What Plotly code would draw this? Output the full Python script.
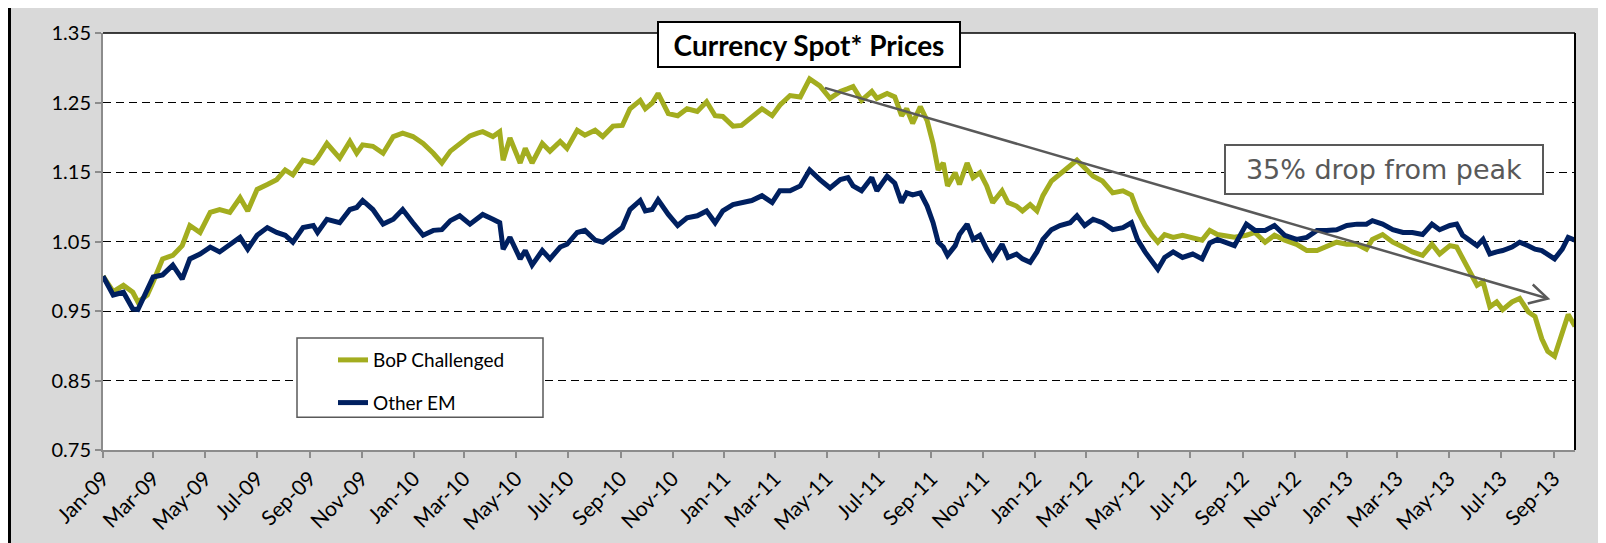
import plotly.graph_objects as go

# ---------------- data ----------------
dates = [
    "2009-01-01", "2009-01-13", "2009-01-25", "2009-02-05", "2009-02-11", "2009-02-22",
    "2009-03-01", "2009-03-12", "2009-03-24", "2009-04-04", "2009-04-13", "2009-04-25",
    "2009-05-07", "2009-05-18", "2009-05-30", "2009-06-11", "2009-06-20", "2009-07-01",
    "2009-07-13", "2009-07-24", "2009-08-03", "2009-08-12", "2009-08-24", "2009-09-05",
    "2009-09-10", "2009-09-21", "2009-10-06", "2009-10-18", "2009-10-26", "2009-11-02",
    "2009-11-14", "2009-11-26", "2009-12-08", "2009-12-19", "2009-12-31", "2010-01-12",
    "2010-01-24", "2010-02-03", "2010-02-13", "2010-02-24", "2010-03-08", "2010-03-17",
    "2010-03-23", "2010-04-04", "2010-04-12", "2010-04-16", "2010-04-24", "2010-05-06",
    "2010-05-12", "2010-05-20", "2010-06-01", "2010-06-10", "2010-06-22", "2010-06-30",
    "2010-07-12", "2010-07-21", "2010-08-02", "2010-08-11", "2010-08-23", "2010-09-03",
    "2010-09-12", "2010-09-24", "2010-09-30", "2010-10-08", "2010-10-15", "2010-10-27",
    "2010-11-07", "2010-11-18", "2010-11-30", "2010-12-11", "2010-12-21", "2010-12-30",
    "2011-01-11", "2011-01-21", "2011-02-02", "2011-02-14", "2011-02-26", "2011-03-07",
    "2011-03-19", "2011-03-31", "2011-04-11", "2011-04-23", "2011-05-05", "2011-05-17",
    "2011-05-26", "2011-06-01", "2011-06-11", "2011-06-23", "2011-06-29", "2011-07-11",
    "2011-07-20", "2011-07-28", "2011-08-03", "2011-08-10", "2011-08-19", "2011-08-27",
    "2011-09-03", "2011-09-09", "2011-09-15", "2011-09-20", "2011-09-29", "2011-10-04",
    "2011-10-13", "2011-10-20", "2011-10-28", "2011-11-05", "2011-11-12", "2011-11-23",
    "2011-11-30", "2011-12-10", "2011-12-17", "2011-12-26", "2012-01-03", "2012-01-10",
    "2012-01-20", "2012-01-30", "2012-02-11", "2012-02-19", "2012-02-28", "2012-03-09",
    "2012-03-20", "2012-04-01", "2012-04-13", "2012-04-23", "2012-04-30", "2012-05-09",
    "2012-05-17", "2012-05-24", "2012-06-01", "2012-06-11", "2012-06-22", "2012-07-04",
    "2012-07-15", "2012-07-24", "2012-08-02", "2012-08-22", "2012-09-05", "2012-09-15",
    "2012-09-27", "2012-10-08", "2012-10-20", "2012-11-03", "2012-11-15", "2012-11-27",
    "2012-12-08", "2012-12-20", "2013-01-01", "2013-01-13", "2013-01-24", "2013-01-31",
    "2013-02-12", "2013-02-24", "2013-03-08", "2013-03-19", "2013-03-31", "2013-04-11",
    "2013-04-20", "2013-05-02", "2013-05-10", "2013-05-17", "2013-05-25", "2013-06-03",
    "2013-06-10", "2013-06-18", "2013-06-26", "2013-07-03", "2013-07-14", "2013-07-23",
    "2013-08-02", "2013-08-10", "2013-08-18", "2013-08-25", "2013-09-02", "2013-09-11",
    "2013-09-18", "2013-09-26",
]

bop_challenged = [
    1.000, 0.978, 0.987, 0.977, 0.963, 0.973,
    0.992, 1.025, 1.030, 1.044, 1.073, 1.063,
    1.092, 1.096, 1.092, 1.113, 1.094, 1.125,
    1.132, 1.139, 1.153, 1.146, 1.167, 1.163,
    1.170, 1.191, 1.170, 1.194, 1.177, 1.189,
    1.187, 1.177, 1.201, 1.206, 1.201, 1.191,
    1.177, 1.163, 1.180, 1.191, 1.202, 1.206,
    1.208, 1.201, 1.208, 1.167, 1.199, 1.163,
    1.184, 1.163, 1.191, 1.180, 1.194, 1.184,
    1.210, 1.203, 1.210, 1.201, 1.216, 1.217,
    1.241, 1.253, 1.241, 1.249, 1.263, 1.234,
    1.231, 1.241, 1.237, 1.251, 1.231, 1.230,
    1.216, 1.217, 1.230, 1.241, 1.231, 1.246,
    1.260, 1.258, 1.284, 1.274, 1.256, 1.266,
    1.270, 1.273, 1.253, 1.266, 1.256, 1.263,
    1.258, 1.231, 1.241, 1.220, 1.244, 1.224,
    1.191, 1.153, 1.163, 1.130, 1.149, 1.132,
    1.163, 1.142, 1.149, 1.130, 1.106, 1.123,
    1.106, 1.101, 1.094, 1.103, 1.094, 1.116,
    1.137, 1.146, 1.159, 1.167, 1.156, 1.144,
    1.137, 1.120, 1.123, 1.117, 1.094, 1.073,
    1.059, 1.049, 1.060, 1.056, 1.059, 1.056,
    1.052, 1.066, 1.060, 1.056, 1.059, 1.063,
    1.049, 1.059, 1.052, 1.046, 1.037, 1.037,
    1.042, 1.049, 1.046, 1.046, 1.039, 1.053,
    1.060, 1.049, 1.042, 1.035, 1.030, 1.046,
    1.032, 1.044, 1.042, 1.025, 1.006, 0.987,
    0.992, 0.956, 0.963, 0.952, 0.963, 0.968,
    0.949, 0.942, 0.910, 0.892, 0.885, 0.918,
    0.945, 0.928,
]

other_em = [
    1.000, 0.973, 0.977, 0.953, 0.952, 0.982,
    0.999, 1.002, 1.016, 0.996, 1.025, 1.032,
    1.042, 1.035, 1.046, 1.056, 1.039, 1.059,
    1.070, 1.063, 1.059, 1.049, 1.070, 1.073,
    1.063, 1.082, 1.077, 1.096, 1.099, 1.109,
    1.096, 1.075, 1.082, 1.096, 1.077, 1.059,
    1.066, 1.067, 1.080, 1.087, 1.075, 1.084,
    1.089, 1.082, 1.077, 1.039, 1.056, 1.025,
    1.037, 1.016, 1.037, 1.025, 1.042, 1.046,
    1.063, 1.066, 1.052, 1.049, 1.060, 1.070,
    1.096, 1.109, 1.094, 1.096, 1.110, 1.089,
    1.073, 1.084, 1.087, 1.094, 1.077, 1.094,
    1.103, 1.106, 1.109, 1.116, 1.106, 1.123,
    1.123, 1.130, 1.153, 1.139, 1.127, 1.139,
    1.142, 1.130, 1.123, 1.142, 1.123, 1.144,
    1.134, 1.106, 1.120, 1.117, 1.120, 1.101,
    1.077, 1.049, 1.042, 1.030, 1.044, 1.060,
    1.075, 1.053, 1.059, 1.039, 1.025, 1.046,
    1.027, 1.032, 1.025, 1.020, 1.035, 1.053,
    1.067, 1.073, 1.077, 1.087, 1.073, 1.082,
    1.077, 1.067, 1.070, 1.077, 1.053, 1.035,
    1.020, 1.010, 1.027, 1.035, 1.027, 1.032,
    1.025, 1.048, 1.053, 1.044, 1.075, 1.066,
    1.066, 1.073, 1.059, 1.053, 1.056, 1.066,
    1.066, 1.067, 1.073, 1.075, 1.075, 1.080,
    1.075, 1.067, 1.063, 1.063, 1.060, 1.075,
    1.067, 1.073, 1.075, 1.059, 1.052, 1.044,
    1.053, 1.032, 1.035, 1.037, 1.042, 1.049,
    1.044, 1.039, 1.037, 1.032, 1.025, 1.039,
    1.056, 1.052,
]

series_names = ["BoP Challenged", "Other EM"]
title_text = "Currency Spot* Prices"
drop_text = "35% drop from peak"
arrow_start = ("2011-04-29", 1.271)
arrow_end = ("2013-08-25", 0.968)
x_range = ["2009-01-01", "2013-09-26"]
y_range = [0.75, 1.35]

# ---------------- layout geometry (screen pixels) ----------------
W, H = 1606, 543
OFF = 8                      # page body margin offsets the figure on screen
PL, PR, PT, PB = 103, 1575, 29, 450   # plot area on screen
ML, MT = PL - OFF, PT - OFF
MR, MB = W - (PR - OFF), H - (PB - OFF)
PW, PH = PR - PL, PB - PT


def px(xs):
    return (xs - PL) / PW


def py(ys):
    return (PB - ys) / PH


GREEN = "#a3ad1f"
NAVY = "#002060"
GREY = "#595959"
AXIS_GREY = "#8c8c8c"

fig = go.Figure()
fig.add_trace(go.Scatter(x=dates, y=bop_challenged, mode="lines", name=series_names[0],
                         line=dict(color=GREEN, width=5), legendgroup="a"))
fig.add_trace(go.Scatter(x=dates, y=other_em, mode="lines", name=series_names[1],
                         line=dict(color=NAVY, width=5), legendgroup="b"))

shapes = [
    # outer frame, left edge
    dict(type="line", xref="paper", yref="paper", x0=px(9), x1=px(9), y0=py(H + 20), y1=py(-20),
         line=dict(color="black", width=4), layer="above"),
    # plot area top and right borders
    dict(type="line", xref="paper", yref="paper", x0=0, x1=1, y0=1, y1=1,
         line=dict(color="black", width=1.5), layer="above"),
    dict(type="line", xref="paper", yref="paper", x0=1, x1=1, y0=0, y1=1,
         line=dict(color="black", width=2), layer="above"),
    # legend box
    dict(type="rect", xref="paper", yref="paper", x0=px(297), x1=px(543), y0=py(417), y1=py(337),
         fillcolor="white", line=dict(color=GREY, width=1.5), layer="above"),
    # arrow line
    dict(type="line", xref="x", yref="y", x0=arrow_start[0], y0=arrow_start[1],
         x1=arrow_end[0], y1=arrow_end[1], line=dict(color=GREY, width=2.5), layer="above"),
    # arrow head (open chevron), pixel offsets around the arrow tip
    dict(type="path", xref="x", yref="y", xsizemode="pixel", ysizemode="pixel",
         xanchor=arrow_end[0], yanchor=arrow_end[1],
         path="M-15,14 L0,0 L-20,-5", line=dict(color=GREY, width=2.5), layer="above"),
]

annotations = [
    dict(text="<b>" + title_text + "</b>", xref="paper", yref="paper", x=px(809), y=py(40.5),
         xanchor="center", yanchor="middle", showarrow=False,
         font=dict(family="Lato", size=28, color="black"),
         bgcolor="white", bordercolor="black", borderwidth=2, borderpad=0,
         width=300, height=43),
    dict(text=drop_text, xref="paper", yref="paper", x=px(1384), y=py(166.5),
         xanchor="center", yanchor="middle", showarrow=False,
         font=dict(family="DejaVu Sans", size=27, color=GREY),
         bgcolor="white", bordercolor=GREY, borderwidth=2, borderpad=0,
         width=316, height=47),
]

fig.update_layout(
    width=W, height=H,
    margin=dict(l=ML, r=MR, t=MT, b=MB, pad=0),
    paper_bgcolor="#d9d9d9",
    plot_bgcolor="white",
    showlegend=True,
    legend=dict(x=px(333), y=py(340), xanchor="left", yanchor="top",
                bgcolor="rgba(0,0,0,0)", borderwidth=0,
                font=dict(family="Lato", size=19, color="black"),
                traceorder="grouped", tracegroupgap=15),
    shapes=shapes,
    annotations=annotations,
    xaxis=dict(type="date", range=x_range, tick0="2009-01-01", dtick="M2",
               tickformat="%b-%y", tickangle=-45, ticks="outside", ticklen=6,
               tickwidth=1.5, tickcolor=AXIS_GREY, showline=True, linecolor=AXIS_GREY,
               linewidth=2, showgrid=False, zeroline=False,
               tickfont=dict(family="Lato", size=21, color="black"),
               ticklabelstandoff=0),
    yaxis=dict(range=y_range, tick0=0.75, dtick=0.1, tickformat=".2f",
               showgrid=True, gridcolor="black", gridwidth=1.3, griddash="8px,5px",
               zeroline=False, showline=True, linecolor=AXIS_GREY, linewidth=2,
               ticks="outside", ticklen=6, tickwidth=1.5, tickcolor=AXIS_GREY,
               tickfont=dict(family="Lato", size=20, color="black"),
               ticklabelstandoff=0),
)

fig.write_html("out.html")
